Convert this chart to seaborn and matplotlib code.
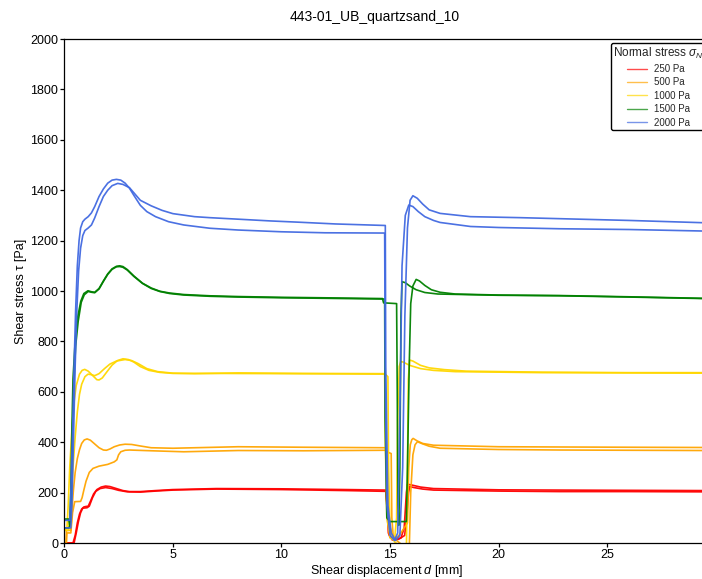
import numpy as np
import pandas as pd
import matplotlib
matplotlib.use("Agg")
import matplotlib.pyplot as plt
import seaborn as sns
from matplotlib.lines import Line2D

# Shear displacement d [mm] and shear stress tau [Pa] per test run,
# two repeat runs (a, b) for every normal stress level.
D_250_a = [0, 0.4, 0.5, 0.6, 0.7, 0.8, 0.9, 1.0, 1.1, 1.2, 1.35, 1.5, 1.7, 1.9, 2.1, 2.4, 2.7, 3.0, 3.5, 4.2, 5, 7, 10, 13, 14.8,
           14.85, 14.92, 15.0, 15.2, 15.5, 15.65, 15.75, 15.8, 16.0, 16.4, 17, 20, 22.8, 26, 29.4]
T_250_a = [0, 0, 30, 80, 115, 135, 143, 145, 146, 165, 195, 212, 222, 226, 224, 216, 208, 204, 204, 208, 212, 216, 215, 212, 210,
           150, 40, 22, 15, 20, 60, 200, 233, 230, 222, 216, 211, 210, 209, 208]
D_250_b = [0, 0.45, 0.55, 0.65, 0.75, 0.85, 1.05, 1.15, 1.3, 1.45, 1.65, 1.9, 2.2, 2.5, 2.9, 3.5, 4.2, 5, 7, 10, 13, 14.8,
           14.9, 14.98, 15.1, 15.4, 15.67, 15.75, 15.85, 15.9, 16.1, 16.5, 17, 20, 22.8, 26, 29.4]
T_250_b = [0, 0, 40, 85, 120, 138, 140, 146, 180, 205, 216, 220, 216, 209, 203, 202, 206, 210, 214, 212, 208, 205,
           120, 30, 12, 15, 30, 90, 200, 224, 220, 214, 210, 206, 204, 204, 203]

D_500_a = [0, 0.08, 0.1, 0.3, 0.35, 0.42, 0.5, 0.6, 0.7, 0.8, 0.92, 1.05, 1.2, 1.4, 1.6, 1.8, 1.94, 2.1, 2.3, 2.55, 2.8,
           3.1, 3.5, 4, 5, 6, 8, 11, 14.8,
           14.85, 14.95, 15.1, 15.3, 15.5, 15.8, 15.86, 15.93, 16.0, 16.06, 16.25, 16.5, 17, 20, 22.8, 26, 29.4]
T_500_a = [0, 0, 50, 50, 130, 210, 280, 335, 370, 395, 409, 413, 408, 393, 378, 369, 368, 373, 382, 389, 392,
           391, 385, 378, 376, 378, 382, 380, 378,
           300, 80, 30, 20, 40, 80, 300, 390, 410, 415, 405, 395, 388, 382, 381, 380, 379]
D_500_b = [0, 0.1, 0.12, 0.3, 0.38, 0.48, 0.75, 0.82, 0.9, 1.0, 1.15, 1.32, 1.6, 2.0, 2.3, 2.42, 2.5, 2.6, 2.8, 3.0,
           4, 5.5, 8, 11, 14.8,
           14.9, 15.05, 15.08, 15.15, 15.3, 15.88, 15.95, 16.05, 16.15, 16.26, 16.45, 16.8, 17.3, 20, 22.8, 26, 29.4]
T_500_b = [0, 0, 40, 40, 120, 164, 165, 180, 210, 245, 280, 296, 305, 312, 322, 330, 350, 362, 368, 369,
           366, 362, 367, 366, 368,
           360, 355, 100, 20, 10, -30, 200, 350, 390, 402, 395, 384, 376, 371, 369, 368, 367]

D_1000_a = [0, 0.12, 0.18, 0.25, 0.35, 0.45, 0.55, 0.7, 0.82, 0.94, 1.1, 1.3, 1.5, 1.6, 1.75, 1.95, 2.2, 2.45, 2.7,
            2.95, 3.2, 3.5, 3.9, 4.4, 5, 7, 10, 13, 14.75,
            14.78, 14.85, 15.0, 15.2, 15.3, 15.35, 15.42, 15.49, 15.6, 15.9, 16.4, 17, 18, 22, 26, 29.4]
T_1000_a = [55, 55, 150, 300, 450, 560, 625, 670, 685, 689, 682, 665, 648, 647, 655, 678, 706, 724, 731,
            728, 718, 700, 685, 677, 673, 673, 672, 671, 670,
            400, 100, 20, 10, 100, 500, 700, 720, 718, 705, 692, 685, 680, 676, 675, 674]
D_1000_b = [0, 0.2, 0.3, 0.4, 0.5, 0.6, 0.7, 0.8, 0.95, 1.09, 1.25, 1.4, 1.6, 1.85, 2.1, 2.4, 2.8, 3.1, 3.4,
            3.8, 4.3, 5, 6, 8, 11, 14.75,
            14.9, 14.93, 15.0, 15.2, 15.75, 15.8, 15.84, 15.9, 16.05, 16.4, 16.8, 17.5, 18.5, 22, 26, 29.4]
T_1000_b = [50, 50, 150, 300, 420, 520, 590, 630, 660, 670, 668, 664, 672, 692, 710, 722, 728, 724, 712,
            692, 680, 674, 672, 675, 673, 672,
            660, 300, 50, 5, -30, 300, 650, 726, 722, 705, 695, 688, 682, 678, 676, 676]

D_1500_a = [0, 0.2, 0.25, 0.3, 0.35, 0.4, 0.5, 0.62, 0.76, 0.9, 1.09, 1.25, 1.4, 1.6, 1.8, 2.0, 2.2, 2.4, 2.55,
            2.7, 2.9, 3.2, 3.6, 4.0, 4.4, 4.85, 5.5, 6.7, 8, 10, 12, 14.65,
            14.7, 15.3, 15.33, 15.36, 15.4, 15.45, 15.5, 15.55, 15.7, 15.9, 16.2, 16.6, 17.2, 20, 22.8, 26, 29.4]
T_1500_a = [95, 95, 70, 200, 450, 650, 800, 898, 960, 990, 1001, 997, 995, 1010, 1040, 1068, 1088, 1098, 1100,
            1097, 1085, 1060, 1031, 1012, 999, 992, 986, 981, 978, 975, 973, 970,
            953, 950, 600, 150, 70, 300, 900, 1037, 1033, 1020, 1005, 994, 988, 983, 981, 976, 970]
D_1500_b = [0, 0.22, 0.27, 0.32, 0.37, 0.42, 0.52, 0.64, 0.78, 0.92, 1.1, 1.25, 1.4, 1.6, 1.8, 2.0, 2.2, 2.4, 2.55,
            2.7, 2.9, 3.2, 3.6, 4.0, 4.4, 4.85, 5.5, 6.7, 8, 10, 12, 14.75,
            14.77, 14.85, 14.99, 15.75, 15.8, 15.88, 15.95, 16.05, 16.2, 16.35, 16.6, 16.9, 17.3, 18, 20, 22.8, 26, 29.4]
T_1500_b = [60, 60, 75, 180, 420, 600, 780, 880, 955, 985, 998, 995, 993, 1008, 1038, 1066, 1086, 1096, 1097,
            1094, 1083, 1058, 1030, 1010, 998, 990, 984, 979, 976, 973, 971, 968,
            500, 100, 85, 85, 300, 700, 950, 1020, 1046, 1040, 1022, 1005, 995, 988, 984, 982, 977, 971]

D_2000_a = [0, 0.25, 0.3, 0.38, 0.45, 0.52, 0.6, 0.68, 0.75, 0.85, 0.95, 1.1, 1.25, 1.4, 1.6, 1.8, 2.0, 2.2, 2.4,
            2.6, 2.8, 3.0, 3.2, 3.5, 3.8, 4.2, 4.8, 5.5, 6.7, 8, 10, 12, 14.75,
            14.78, 14.85, 15.0, 15.2, 15.35, 15.45, 15.55, 15.7, 15.86, 16.05, 16.3, 16.6, 17.0, 17.3, 18.7, 20, 22.8, 26, 29.4]
T_2000_a = [90, 90, 200, 450, 700, 920, 1100, 1200, 1250, 1275, 1285, 1295, 1310, 1335, 1375, 1405, 1428, 1440, 1443,
            1440, 1428, 1408, 1380, 1340, 1315, 1295, 1275, 1262, 1249, 1242, 1235, 1231, 1230,
            600, 150, 30, 10, 40, 500, 1100, 1300, 1341, 1335, 1315, 1295, 1280, 1272, 1256, 1252, 1247, 1244, 1238]
D_2000_b = [0, 0.3, 0.35, 0.42, 0.5, 0.58, 0.66, 0.75, 0.85, 0.95, 1.1, 1.25, 1.4, 1.6, 1.8, 2.0, 2.2, 2.46, 2.7,
            3.0, 3.5, 4.0, 4.5, 5.0, 6.0, 6.7, 8, 9.5, 10.8, 12.5, 14.78,
            14.8, 14.9, 15.05, 15.25, 15.45, 15.58, 15.68, 15.8, 15.92, 16.05, 16.25, 16.5, 16.8, 17.3, 18.7, 21, 22.8, 26, 29.4]
T_2000_b = [60, 60, 150, 400, 700, 930, 1080, 1170, 1220, 1240, 1250, 1262, 1290, 1335, 1375, 1400, 1418, 1427, 1423,
            1410, 1360, 1338, 1320, 1307, 1295, 1291, 1285, 1278, 1273, 1266, 1260,
            700, 150, 40, 10, 30, 300, 900, 1250, 1360, 1378, 1368, 1345, 1322, 1308, 1295, 1291, 1287, 1280, 1271]

STRESS_LABELS = ["250 Pa", "500 Pa", "1000 Pa", "1500 Pa", "2000 Pa"]
COLORS = ["#ff0000", "#ffa500", "#ffd700", "#008000", "#4169e1"]

RUNS = {
    "250 Pa": [(D_250_a, T_250_a), (D_250_b, T_250_b)],
    "500 Pa": [(D_500_a, T_500_a), (D_500_b, T_500_b)],
    "1000 Pa": [(D_1000_a, T_1000_a), (D_1000_b, T_1000_b)],
    "1500 Pa": [(D_1500_a, T_1500_a), (D_1500_b, T_1500_b)],
    "2000 Pa": [(D_2000_a, T_2000_a), (D_2000_b, T_2000_b)],
}

frames = []
for label in STRESS_LABELS:
    for k, (d, t) in enumerate(RUNS[label]):
        frames.append(pd.DataFrame({"d": d, "tau": t, "stress": label, "run": f"{label}-{k}"}))
df = pd.concat(frames, ignore_index=True)

sns.set_theme(style="ticks")
plt.rcParams["font.family"] = ["Liberation Sans", "DejaVu Sans"]
plt.rcParams["mathtext.fontset"] = "custom"
plt.rcParams["mathtext.rm"] = "Liberation Sans"
plt.rcParams["mathtext.it"] = "Liberation Sans:italic"

fig = plt.figure(figsize=(7.02, 5.79), dpi=100)
ax = fig.add_axes([64.3 / 702, 36 / 579, 645.5 / 702, 504 / 579])

sns.lineplot(data=df, x="d", y="tau", hue="stress", units="run", estimator=None, sort=False,
             hue_order=STRESS_LABELS, palette=COLORS, lw=1.2, alpha=0.95, legend=False, ax=ax)

ax.set_xlim(0, 29.72)
ax.set_ylim(0, 2000)
ax.set_xticks([0, 5, 10, 15, 20, 25])
ax.set_yticks(np.arange(0, 2001, 200))
ax.tick_params(labelsize=9, length=2.8, width=0.9, pad=1.5, color="black", labelcolor="black")
for s in ax.spines.values():
    s.set_color("black")
    s.set_linewidth(0.9)
ax.set_xlabel("Shear displacement $d$ [mm]", fontsize=9, color="black", labelpad=1.5)
ax.set_ylabel("Shear stress τ [Pa]", fontsize=9, color="black", labelpad=2.5)

fig.text(375 / 702, 1 - 17 / 579, "443-01_UB_quartzsand_10", ha="center", va="center",
         fontsize=10, color="black")

handles = [Line2D([0], [0], color=c, lw=1.0, alpha=0.7) for c in COLORS]
leg = ax.legend(handles, STRESS_LABELS, title="Normal stress $\\sigma_N$", loc="upper left",
                bbox_to_anchor=(611 / 702, 1 - 43 / 579), bbox_transform=fig.transFigure,
                borderaxespad=0, fontsize=7, title_fontsize=8.5, frameon=True, fancybox=True,
                framealpha=1, edgecolor="black", labelspacing=0.35, handlelength=2.0,
                borderpad=0.25)
leg.get_frame().set_linewidth(1.0)

fig.savefig("out.png", dpi=100)
